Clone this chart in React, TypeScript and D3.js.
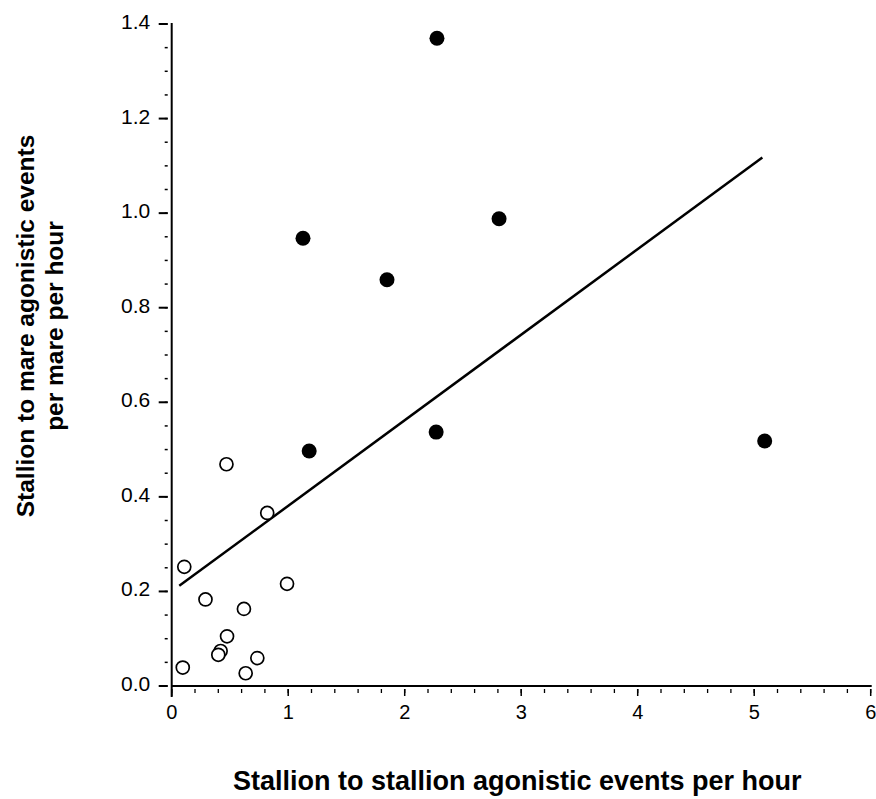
import * as d3 from "d3";
import { useRef, useEffect } from "react";

// filled circles
const filledX = [2.277, 1.127, 1.848, 2.81, 1.18, 2.27, 5.09];
const filledY = [1.37, 0.947, 0.859, 0.988, 0.497, 0.537, 0.518];

// open circles
const openX = [0.108, 0.29, 0.62, 0.99, 0.475, 0.42, 0.4, 0.735, 0.635, 0.095, 0.47, 0.82];
const openY = [0.252, 0.183, 0.163, 0.216, 0.105, 0.074, 0.066, 0.059, 0.027, 0.039, 0.469, 0.366];

// fitted line
const fitRange = [0.065, 5.07];
const fitIntercept = 0.2;
const fitSlope = 0.181;

const xTicks = [0, 1, 2, 3, 4, 5, 6];
const yTicks = [0, 0.2, 0.4, 0.6, 0.8, 1.0, 1.2, 1.4];

const xTitle = "Stallion to stallion agonistic events per hour";
const yTitle = ["Stallion to mare agonistic events", "per mare per hour"];

const App = () => {
  const container = useRef(null);

  useEffect(() => {
    let node = container.current;
    let font = "'Liberation Sans', Arial, Helvetica, sans-serif";

    let margins = { l: 171.7, r: 5.3, t: 24, b: 113 };
    let width = 876;
    let height = 799;

    let xScale = d3.scaleLinear().domain([0, 6]).range([margins.l, width - margins.r]);
    let yScale = d3.scaleLinear().domain([0, 1.4]).range([height - margins.b, margins.t]);

    let svg = d3
      .select(node)
      .selectAll("svg")
      .data([0])
      .join("svg")
      .attr("width", width)
      .attr("height", height)
      .style("position", "absolute")
      .style("left", 0)
      .style("top", 0)
      .style("background", "#fff");

    svg.selectAll("*").remove();

    let x0 = xScale(0);
    let y0 = yScale(0);

    // axis lines
    svg
      .append("line")
      .attr("x1", x0)
      .attr("x2", x0)
      .attr("y1", yScale(1.4) - 1)
      .attr("y2", y0 + 11)
      .attr("stroke", "#000")
      .attr("stroke-width", 2);
    svg
      .append("line")
      .attr("x1", x0)
      .attr("x2", xScale(6) + 1)
      .attr("y1", y0)
      .attr("y2", y0)
      .attr("stroke", "#000")
      .attr("stroke-width", 2);

    // y ticks
    let yMinor = d3.range(0, 1.4001, 0.05);
    svg
      .selectAll(".y-minor")
      .data(yMinor)
      .join("line")
      .attr("class", "y-minor")
      .attr("x1", x0 - 7)
      .attr("x2", x0 - 4)
      .attr("y1", (d) => yScale(d))
      .attr("y2", (d) => yScale(d))
      .attr("stroke", "#000")
      .attr("stroke-width", 1.5);
    svg
      .selectAll(".y-major")
      .data(yTicks)
      .join("line")
      .attr("class", "y-major")
      .attr("x1", x0 - 13)
      .attr("x2", x0 - 4)
      .attr("y1", (d) => yScale(d))
      .attr("y2", (d) => yScale(d))
      .attr("stroke", "#000")
      .attr("stroke-width", 2);
    svg
      .selectAll(".y-label")
      .data(yTicks)
      .join("text")
      .attr("class", "y-label")
      .attr("x", x0 - 21.5)
      .attr("y", (d) => yScale(d) + 5)
      .attr("text-anchor", "end")
      .attr("font-family", font)
      .attr("font-size", 21)
      .text((d) => d3.format(".1f")(d));

    // x ticks
    let xMinor = d3.range(0, 6.001, 0.2);
    svg
      .selectAll(".x-minor")
      .data(xMinor)
      .join("line")
      .attr("class", "x-minor")
      .attr("x1", (d) => xScale(d))
      .attr("x2", (d) => xScale(d))
      .attr("y1", y0 + 3)
      .attr("y2", y0 + 7)
      .attr("stroke", "#000")
      .attr("stroke-width", 1.3);
    svg
      .selectAll(".x-major")
      .data(xTicks)
      .join("line")
      .attr("class", "x-major")
      .attr("x1", (d) => xScale(d))
      .attr("x2", (d) => xScale(d))
      .attr("y1", y0 + 3)
      .attr("y2", y0 + 10)
      .attr("stroke", "#000")
      .attr("stroke-width", 1.5);
    svg
      .selectAll(".x-label")
      .data(xTicks)
      .join("text")
      .attr("class", "x-label")
      .attr("x", (d) => xScale(d))
      .attr("y", y0 + 33)
      .attr("text-anchor", "middle")
      .attr("font-family", font)
      .attr("font-size", 20)
      .text((d) => d);

    // fitted line
    svg
      .append("line")
      .attr("x1", xScale(fitRange[0]))
      .attr("x2", xScale(fitRange[1]))
      .attr("y1", yScale(fitIntercept + fitSlope * fitRange[0]))
      .attr("y2", yScale(fitIntercept + fitSlope * fitRange[1]))
      .attr("stroke", "#000")
      .attr("stroke-width", 2.5);

    // points
    let openData = openX.map((x, i) => ({ x, y: openY[i] }));
    let filledData = filledX.map((x, i) => ({ x, y: filledY[i] }));

    svg
      .selectAll(".open-pt")
      .data(openData)
      .join("circle")
      .attr("class", "open-pt")
      .attr("cx", (d) => xScale(d.x))
      .attr("cy", (d) => yScale(d.y))
      .attr("r", 6.5)
      .attr("fill", "#fff")
      .attr("stroke", "#000")
      .attr("stroke-width", 1.7);

    svg
      .selectAll(".filled-pt")
      .data(filledData)
      .join("circle")
      .attr("class", "filled-pt")
      .attr("cx", (d) => xScale(d.x))
      .attr("cy", (d) => yScale(d.y))
      .attr("r", 7.5)
      .attr("fill", "#000");

    // titles
    svg
      .append("text")
      .attr("x", (xScale(0) + xScale(6)) / 2 - 4)
      .attr("y", 790)
      .attr("text-anchor", "middle")
      .attr("font-family", font)
      .attr("font-size", 27)
      .attr("font-weight", 700)
      .text(xTitle);

    let yt = svg
      .append("text")
      .attr("transform", `translate(34,326)rotate(-90)`)
      .attr("text-anchor", "middle")
      .attr("font-family", font)
      .attr("font-size", 24.5)
      .attr("font-weight", 700);
    yt.selectAll("tspan")
      .data(yTitle)
      .join("tspan")
      .attr("x", 0)
      .attr("y", (d, i) => i * 29)
      .text((d) => d);
  });

  return <div ref={container}></div>;
};

export default App;
